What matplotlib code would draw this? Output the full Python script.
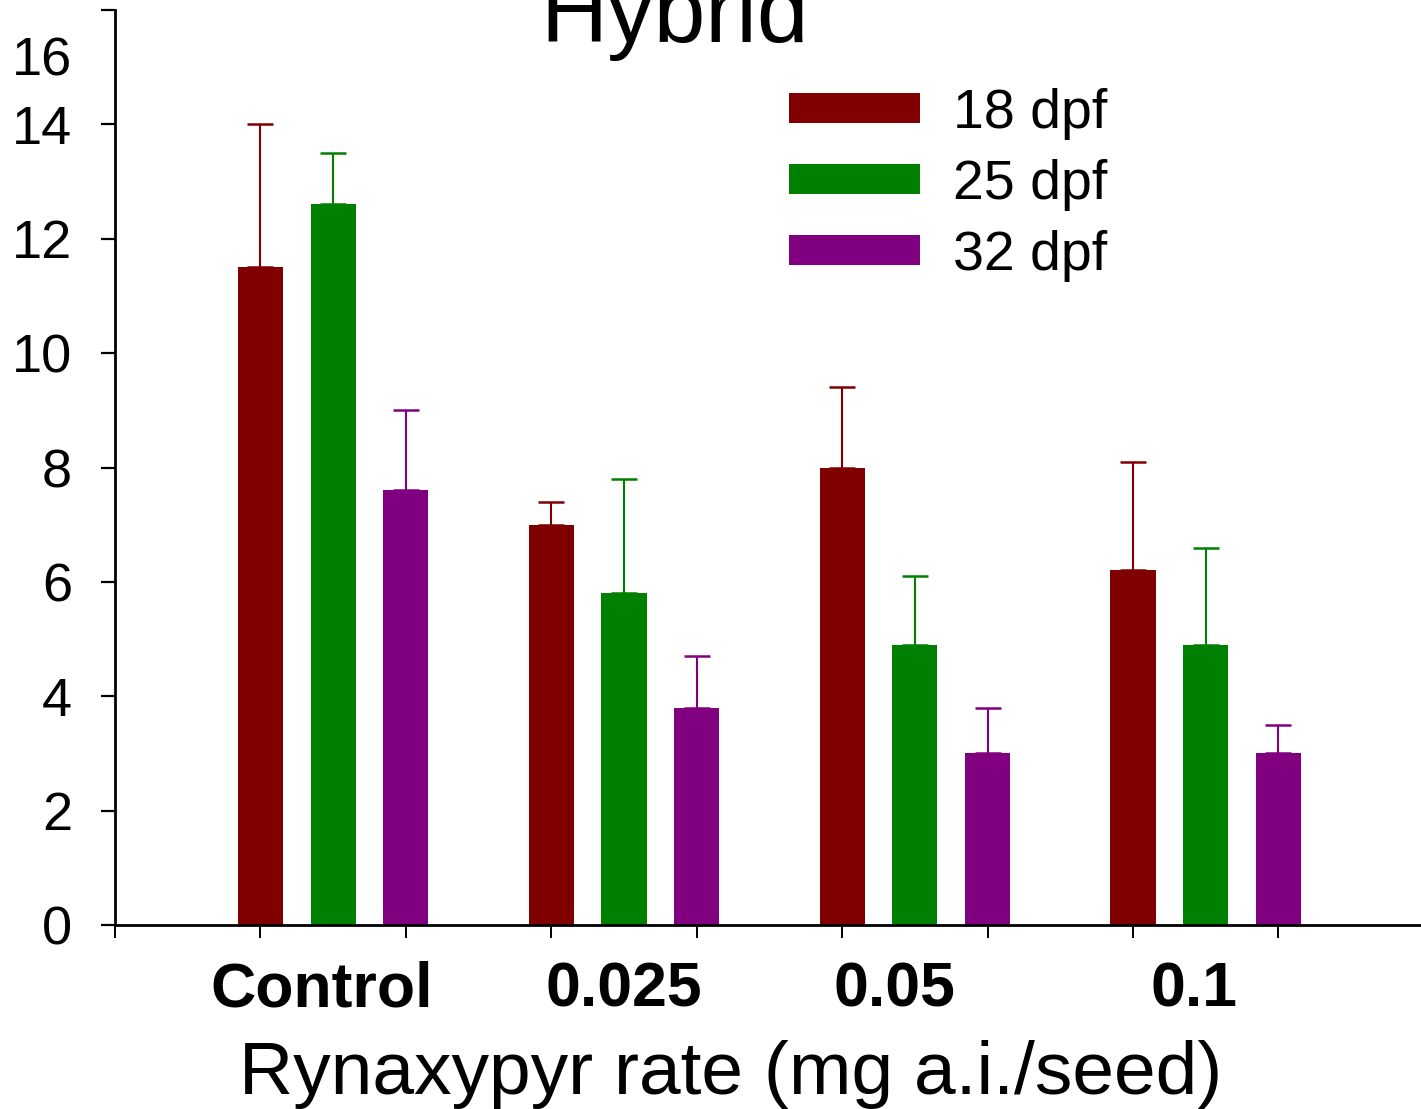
import numpy as np
import matplotlib
matplotlib.use("Agg")
import matplotlib.pyplot as plt
from matplotlib.transforms import ScaledTranslation

plt.rcParams['font.family'] = ['Liberation Sans', 'DejaVu Sans']

# data
categories = ['Control', '0.025', '0.05', '0.1']
series = ['18 dpf', '25 dpf', '32 dpf']
d18 = [11.5, 7.0, 8.0, 6.2]
d18_err = [2.5, 0.4, 1.4, 1.9]
d25 = [12.6, 5.8, 4.9, 4.9]
d25_err = [0.9, 2.0, 1.2, 1.7]
d32 = [7.6, 3.8, 3.0, 3.0]
d32_err = [1.4, 0.9, 0.8, 0.5]
yticks = [0, 2, 4, 6, 8, 10, 12, 14, 16]

colors = ['#800000', '#008000', '#800080']
label_shift = [-0.08, 0.0, -0.14, -0.08]   # hand-placed category labels

W, H = 1421, 1109
fig = plt.figure(figsize=(W / 100, H / 100), dpi=100)
ax = fig.add_axes([115 / W, 184 / H, (W - 115) / W, 915 / H])

vals = [d18, d25, d32]
errs = [d18_err, d25_err, d32_err]
base = np.arange(len(categories)) * 2 + 1.0
for k in range(3):
    x = base + 0.5 * k
    ax.bar(x, vals[k], width=0.31, color=colors[k], label=series[k], zorder=2)
    ax.errorbar(x, vals[k], yerr=[np.zeros(len(x)), errs[k]], fmt='none',
                ecolor=colors[k], elinewidth=1.5, capsize=9.5, capthick=1.8, zorder=3)

ax.set_xlim(0, 8.98)
ax.set_ylim(0, 16)
ax.set_xticks(np.arange(0, 9))
ax.set_xticklabels([])
ax.set_yticks(yticks)
ax.set_yticklabels([str(v) for v in yticks], fontsize=39)

for s in ['top', 'right']:
    ax.spines[s].set_visible(False)
for s in ['left', 'bottom']:
    ax.spines[s].set_linewidth(2.0)
ax.tick_params(axis='y', length=10, width=1.6, pad=21)
ax.tick_params(axis='x', length=9.5, width=1.4)

# top label sits lower than its tick in the original
lab16 = ax.get_yticklabels()[-1]
lab16.set_transform(lab16.get_transform() + ScaledTranslation(0, -0.46, fig.dpi_scale_trans))

for i, c in enumerate(categories):
    ax.text(base[i] + 0.5 + label_shift[i], -0.0896, c, transform=ax.get_xaxis_transform(),
            ha='center', va='baseline', fontsize=45, fontweight='bold')

fig.text(731 / W, (H - 1094) / H, 'Rynaxypyr rate (mg a.i./seed)',
         ha='center', va='baseline', fontsize=54)
fig.text(675 / W, (H - 42) / H, 'Hybrid', ha='center', va='baseline', fontsize=67)

leg = ax.legend(loc='upper left', bbox_to_anchor=(789 / W, (H - 88) / H),
                bbox_transform=fig.transFigure, frameon=False, fontsize=40,
                handlelength=2.36, handleheight=0.44, handletextpad=0.6,
                labelspacing=0.34, borderpad=0, borderaxespad=0)

fig.savefig('out.png', dpi=100)
